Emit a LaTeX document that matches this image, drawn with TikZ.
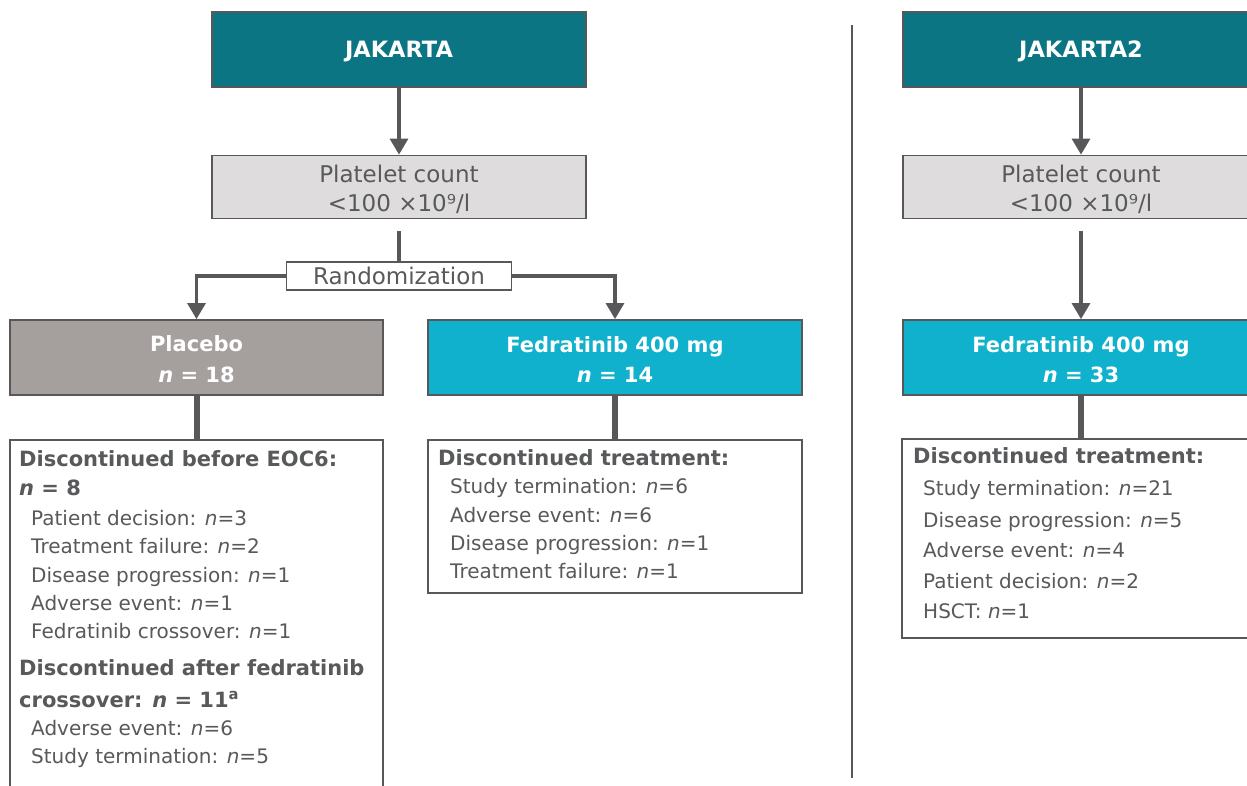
\documentclass[tikz,border=0pt]{standalone}
\usepackage{fontspec}
\setmainfont{DejaVu Sans}
\usetikzlibrary{arrows.meta}
\definecolor{tealA}{HTML}{0B7584}
\definecolor{cyanA}{HTML}{10B1CC}
\definecolor{placG}{HTML}{A59F9E}
\definecolor{pltG}{HTML}{DEDCDD}
\definecolor{textG}{HTML}{58595B}
\definecolor{lineG}{HTML}{58585A}
\newcommand\fitm{\fontsize{20}{24}\selectfont}
\newcommand\fhdr{\fontsize{21}{25}\selectfont\bfseries}
\newcommand\fjak{\fontsize{22.5}{27}\selectfont\bfseries}
\newcommand\fplt{\fontsize{23}{27}\selectfont}
\begin{document}
\begin{tikzpicture}[x=1pt,y=-1pt,
  boxa/.style={draw=lineG, line width=1.8pt, inner sep=0pt},
  discbox/.style={draw=lineG, line width=2pt, fill=white, inner sep=0pt},
  arr/.style={draw=lineG, line width=3.2pt, -{Triangle[width=18pt,length=16pt]}},
  ln/.style={draw=lineG, line width=3.2pt},
  thk/.style={draw=lineG, line width=6pt},
  hd/.style={inner sep=0pt, anchor=base west, text=textG, font=\fhdr},
  itm/.style={inner sep=0pt, anchor=base west, text=textG, font=\fitm},
  ttl/.style={inner sep=0pt, anchor=base, text=white, font=\fhdr},
  jt/.style={inner sep=0pt, anchor=base, text=white, font=\fjak},
  pl/.style={inner sep=0pt, anchor=base, text=textG, font=\fplt}]
\useasboundingbox (0,0) rectangle (1247,786);
\clip (0,0) rectangle (1247,786);
\fill[white] (0,0) rectangle (1247,786);

% ---------- JAKARTA ----------
\node[boxa, fill=tealA, minimum width=374, minimum height=75] (jak) at (399,49.5) {};
\node[jt] (jakt) at (399,58) {JAKARTA};
\node[boxa, fill=pltG, minimum width=374, minimum height=63] (plt) at (399,187) {};
\node[pl] (pltt1) at (399,183) {Platelet count};
\node[pl] (pltt2) at (399,212) {<100 ×10⁹/l};
\node[boxa, fill=white, minimum width=225, minimum height=28, text=textG, font=\fplt] (rand) at (399,276) {Randomization};
\node[boxa, fill=placG, minimum width=373, minimum height=75] (plac) at (196.5,357.5) {};
\node[ttl] (plact1) at (196.5,351) {Placebo};
\node[ttl] (plact2) at (196.5,382) {\textit{n} = 18};
\node[boxa, fill=cyanA, minimum width=374, minimum height=75] (fed) at (615,357.5) {};
\node[ttl] (fedt1) at (615,352) {Fedratinib 400 mg};
\node[ttl] (fedt2) at (615,382) {\textit{n} = 14};

\draw[arr] (jak.south) -- (plt.north);
\draw[ln] ([yshift=-12pt]plt.south) -- (rand.north);
\draw[arr] (rand.west) -| (plac.north);
\draw[arr] (rand.east) -| (fed.north);

\node[discbox, minimum width=373, minimum height=360] (dplac) at (196.5,620) {};
\node[discbox, minimum width=374, minimum height=153] (dfed) at (615,516.5) {};
\draw[thk] (plac.south) -- (dplac.north);
\draw[thk] (fed.south) -- (dfed.north);

\node[hd] (l1) at (19,466) {Discontinued before EOC6:};
\node[hd] (l2) at (19,495) {\textit{n} = 8};
\node[itm] (l3) at (31,525) {Patient decision: \textit{n}=3};
\node[itm] (l4) at (31,553) {Treatment failure: \textit{n}=2};
\node[itm] (l5) at (31,582) {Disease progression: \textit{n}=1};
\node[itm] (l6) at (31,610) {Adverse event: \textit{n}=1};
\node[itm] (l7) at (31,638) {Fedratinib crossover: \textit{n}=1};
\node[hd] (l8) at (19,675) {Discontinued after fedratinib};
\node[hd] (l9) at (19,707) {crossover: \textit{n} = 11\textsuperscript{a}};
\node[itm] (l10) at (31,735) {Adverse event: \textit{n}=6};
\node[itm] (l11) at (31,763) {Study termination: \textit{n}=5};

\node[hd] (m1) at (438,465) {Discontinued treatment:};
\node[itm] (m2) at (450,493) {Study termination: \textit{n}=6};
\node[itm] (m3) at (450,522) {Adverse event: \textit{n}=6};
\node[itm] (m4) at (450,550) {Disease progression: \textit{n}=1};
\node[itm] (m5) at (450,578) {Treatment failure: \textit{n}=1};

% ---------- divider ----------
\coordinate (dv1) at (852,25);
\coordinate (dv2) at (852,778);
\draw[draw=lineG, line width=2pt] (dv1) -- (dv2);

% ---------- JAKARTA2 ----------
\node[boxa, fill=tealA, minimum width=356, minimum height=75] (jak2) at (1081,49.5) {};
\node[jt] (jak2t) at (1081,58) {JAKARTA2};
\node[boxa, fill=pltG, minimum width=356, minimum height=63] (plt2) at (1081,187) {};
\node[pl] (plt2t1) at (1081,183) {Platelet count};
\node[pl] (plt2t2) at (1081,212) {<100 ×10⁹/l};
\node[boxa, fill=cyanA, minimum width=356, minimum height=75] (fed2) at (1081,357.5) {};
\node[ttl] (fed2t1) at (1081,352) {Fedratinib 400 mg};
\node[ttl] (fed2t2) at (1081,382) {\textit{n} = 33};
\node[discbox, minimum width=358, minimum height=199] (dfed2) at (1081,538.5) {};

\draw[arr] (jak2.south) -- (plt2.north);
\draw[arr] ([yshift=-12pt]plt2.south) -- (fed2.north);
\draw[thk] (fed2.south) -- (dfed2.north);

\node[hd] (r1) at (913,463) {Discontinued treatment:};
\node[itm] (r2) at (923,495) {Study termination: \textit{n}=21};
\node[itm] (r3) at (923,527) {Disease progression: \textit{n}=5};
\node[itm] (r4) at (923,557) {Adverse event: \textit{n}=4};
\node[itm] (r5) at (923,588) {Patient decision: \textit{n}=2};
\node[itm] (r6) at (923,618) {HSCT: \textit{n}=1};
\end{tikzpicture}
\end{document}
